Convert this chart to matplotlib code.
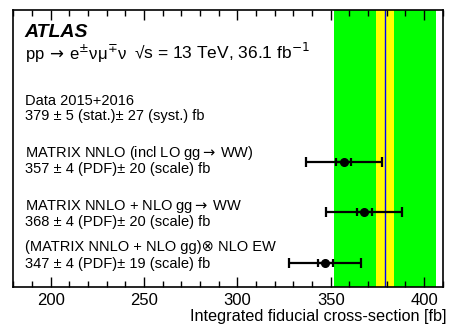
"""ATLAS WW fiducial cross-section comparison (data bands vs MATRIX predictions)."""

import matplotlib

matplotlib.use("Agg")
import matplotlib.pyplot as plt
import numpy as np
from matplotlib.ticker import MultipleLocator

plt.rcParams["font.family"] = ["Liberation Sans", "DejaVu Sans"]
plt.rcParams["mathtext.fontset"] = "dejavusans"

# measurement
data_value = 379.0
data_stat = 5.0
data_syst = 27.0

# predictions
pred_names = [
    "MATRIX NNLO (incl LO gg$\\rightarrow\\,$WW)",
    "MATRIX NNLO + NLO gg$\\rightarrow\\,$WW",
    "(MATRIX NNLO + NLO gg)\u2297 NLO EW",
]
pred_values = np.array([357.0, 368.0, 347.0])
pred_pdf = np.array([4.0, 4.0, 4.0])
pred_scale = np.array([20.0, 20.0, 19.0])
pred_rows = np.array([0.452, 0.270, 0.086])

fig = plt.figure(figsize=(4.57, 3.33), dpi=100)
ax = fig.add_axes([0.029, 0.138, 0.940, 0.832])
ax.set_xlim(180, 410)
ax.set_ylim(0, 1)

data_total = np.hypot(data_stat, data_syst)
ax.axvspan(data_value - data_total, data_value + data_total, color="#00ff00", lw=0)
ax.axvspan(data_value - data_stat, data_value + data_stat, color="#ffff00", lw=0)
ax.axvline(data_value, color="#0000ff", lw=1.0)

pred_total = np.hypot(pred_pdf, pred_scale)
ax.errorbar(pred_values, pred_rows, xerr=pred_total, fmt="none", ecolor="black",
            elinewidth=1.6, capsize=3.5, capthick=1.6)
ax.errorbar(pred_values, pred_rows, xerr=pred_pdf, fmt="o", color="black",
            ms=5.5, elinewidth=1.6, capsize=3.0, capthick=1.6)

tx = 0.027
fs = 10.5
kw = dict(transform=ax.transAxes, va="baseline")
ax.text(tx, 0.904, "ATLAS", fontsize=14, fontweight="bold", fontstyle="italic", **kw)
ax.text(tx, 0.822, "pp$\\,\\rightarrow\\,$e$^{\\pm}$\u03bd\u03bc$^{\\mp}$\u03bd",
        fontsize=12, **kw)
ax.text(0.280, 0.822, "\u221as = 13 TeV, 36.1 fb$^{-1}$", fontsize=12.5, **kw)

ax.text(tx, 0.657, "Data 2015+2016", fontsize=fs, **kw)
ax.text(tx, 0.603,
        f"{data_value:.0f} \u00b1 {data_stat:.0f} (stat.)\u00b1 {data_syst:.0f} (syst.) fb",
        fontsize=fs, **kw)

name_rows = [0.469, 0.278, 0.129]
value_rows = [0.412, 0.222, 0.068]
for name, v, p, s, y1, y2 in zip(pred_names, pred_values, pred_pdf, pred_scale,
                                 name_rows, value_rows):
    ax.text(tx, y1, name, fontsize=fs, **kw)
    ax.text(tx, y2, f"{v:.0f} \u00b1 {p:.0f} (PDF)\u00b1 {s:.0f} (scale) fb",
            fontsize=fs, **kw)

ax.xaxis.set_major_locator(MultipleLocator(50))
ax.xaxis.set_minor_locator(MultipleLocator(10))
ax.tick_params(axis="x", which="both", direction="in", top=True, labelsize=12,
               width=1.0, pad=4)
ax.tick_params(axis="x", which="major", length=7)
ax.tick_params(axis="x", which="minor", length=4)
ax.set_yticks([])
for sp in ax.spines.values():
    sp.set_linewidth(1.2)
ax.set_xlabel("Integrated fiducial cross-section [fb]", fontsize=11.7, ha="right")
ax.xaxis.set_label_coords(1.009, -0.08)

fig.savefig("out.png", dpi=100)
